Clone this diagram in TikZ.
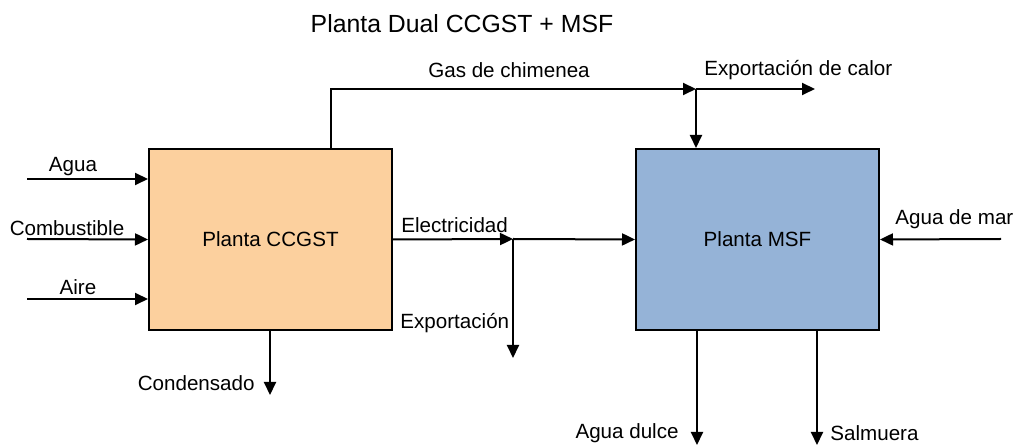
\documentclass[tikz,border=0pt]{standalone}
\usepackage{fontspec}
\setmainfont{Liberation Sans}
\definecolor{ccpeach}{RGB}{252,208,158}
\definecolor{msfblue}{RGB}{149,179,215}
\usetikzlibrary{arrows.meta,positioning}

\begin{document}
\begin{tikzpicture}[
  x=0.5pt,y=-0.5pt,
  every node/.style={font=\fontsize{10.3}{12}\selectfont,inner sep=0pt},
  title/.style={font=\fontsize{12.4}{15}\selectfont},
  plant/.style={draw,line width=1pt,minimum width=121.5pt,minimum height=90.5pt},
  flow/.style={line width=1pt,-{Triangle[length=6.5pt,width=6pt]}}
]
\useasboundingbox (0,0) rectangle (1019,448);
\node[title] (titulo) at (462,24) {Planta Dual CCGST + MSF};
\node[plant,fill=ccpeach] (ccgst) at (270.5,239.5) {Planta CCGST};
\node[plant,fill=msfblue] (msf) at (757.5,239.5) {Planta MSF};
% puntos libres
\coordinate (agua) at (27,179);
\coordinate (comb) at (27,239);
\coordinate (aire) at (27,299);
\coordinate (gas) at (331,89);
\coordinate (calor) at (696,89);
\coordinate (calorfin) at (815,89);
\coordinate (split) at (513,239);
\coordinate (expo) at (513,358);
\coordinate (cond) at (270,395);
\coordinate (dulce) at (697,445);
\coordinate (salm) at (817,445);
\coordinate (mar) at (1001,239);
% entradas
\draw[flow] (agua) -- (agua -| ccgst.west);
\draw[flow] (comb) -- (ccgst.west);
\draw[flow] (aire) -- (aire -| ccgst.west);
\node (laguas) at (73,167) {Agua};
\node (lcomb) at (67,228) {Combustible};
\node (laire) at (78,287) {Aire};
% gas de chimenea
\draw[flow] (ccgst.north -| gas) |- (calor);
\draw[flow] (calor) -- (calorfin);
\draw[flow] (calor) -- (calor |- msf.north);
\node (lgas) at (509,70) {Gas de chimenea};
\node[anchor=west] (lcalor) at (704,70) {Exportación de calor};
% electricidad
\draw[flow] (ccgst.east) -- (split);
\draw[flow] (split) -- (msf.west);
\draw[flow] (split) -- (expo);
\node[anchor=west] (lelec) at (401,225) {Electricidad};
\node[anchor=west] (lexpo) at (400,323) {Exportación};
% salidas
\draw[flow] (ccgst.south -| cond) -- (cond);
\node[anchor=east] (lcond) at (255,383) {Condensado};
\draw[flow] (msf.south -| dulce) -- (dulce);
\draw[flow] (msf.south -| salm) -- (salm);
\node[anchor=east] (ldulce) at (679,433) {Agua dulce};
\node[anchor=west] (lsalm) at (830,433) {Salmuera};
\draw[flow] (mar) -- (msf.east);
\node[anchor=west] (lmar) at (895,219) {Agua de mar};
\end{tikzpicture}
\end{document}
